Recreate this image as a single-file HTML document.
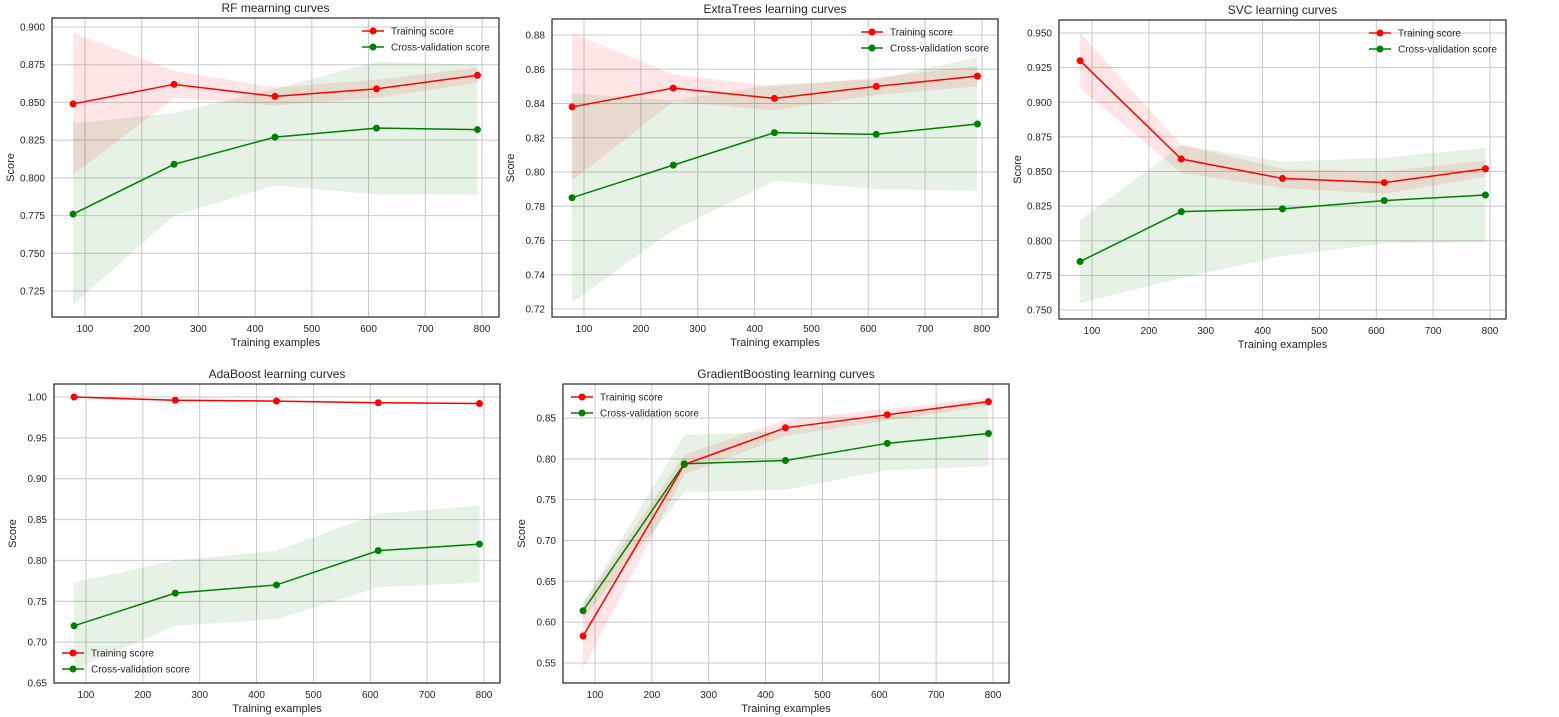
<!DOCTYPE html>
<html><head><meta charset="utf-8">
<style>
body{margin:0;background:#fff;width:1559px;height:717px;overflow:hidden}
svg{display:block;font-family:"Liberation Sans",Arial,sans-serif}
</style></head>
<body>
<svg id="c" width="1559" height="717"></svg>
<script>
const xs = [79, 257, 435, 614, 792];
const xTicks = [100,200,300,400,500,600,700,800];
const titles = ["RF mearning curves","ExtraTrees learning curves","SVC learning curves","AdaBoost learning curves","GradientBoosting learning curves"];
const trainMean1 = [0.849,0.862,0.854,0.859,0.868];
const trainStd1 = [0.047,0.009,0.006,0.006,0.005];
const cvMean1 = [0.776,0.809,0.827,0.833,0.832];
const cvStd1 = [0.060,0.034,0.032,0.044,0.043];
const trainMean2 = [0.838,0.849,0.843,0.850,0.856];
const trainStd2 = [0.043,0.008,0.007,0.005,0.006];
const cvMean2 = [0.785,0.804,0.823,0.822,0.828];
const cvStd2 = [0.061,0.038,0.028,0.032,0.039];
const trainMean3 = [0.930,0.859,0.845,0.842,0.852];
const trainStd3 = [0.020,0.010,0.007,0.008,0.006];
const cvMean3 = [0.785,0.821,0.823,0.829,0.833];
const cvStd3 = [0.030,0.048,0.034,0.031,0.034];
const trainMean4 = [1.000,0.996,0.995,0.993,0.992];
const trainStd4 = [0.001,0.001,0.001,0.001,0.001];
const cvMean4 = [0.720,0.760,0.770,0.812,0.820];
const cvStd4 = [0.053,0.040,0.042,0.045,0.047];
const trainMean5 = [0.583,0.793,0.838,0.854,0.870];
const trainStd5 = [0.040,0.012,0.010,0.007,0.005];
const cvMean5 = [0.614,0.794,0.798,0.819,0.831];
const cvStd5 = [0.010,0.035,0.036,0.033,0.040];
const yTicks1 = [0.725,0.750,0.775,0.800,0.825,0.850,0.875,0.900];
const yTicks2 = [0.72,0.74,0.76,0.78,0.80,0.82,0.84,0.86,0.88];
const yTicks3 = [0.750,0.775,0.800,0.825,0.850,0.875,0.900,0.925,0.950];
const yTicks4 = [0.65,0.70,0.75,0.80,0.85,0.90,0.95,1.00];
const yTicks5 = [0.55,0.60,0.65,0.70,0.75,0.80,0.85];

const NS="http://www.w3.org/2000/svg";
const svg=document.getElementById('c');
function mk(tag,attrs,parent){const e=document.createElementNS(NS,tag);for(const k in attrs)e.setAttribute(k,attrs[k]);(parent||svg).appendChild(e);return e;}

// layout: box, x pixel anchors (100->px, 800->px), y anchors
const panels=[
 {box:[52,18,499,317],x100:85,x800:482,yA:[0.900,27],yB:[0.725,291],tm:trainMean1,ts:trainStd1,cm:cvMean1,cs:cvStd1,yt:yTicks1,fmt:3,leg:'ur'},
 {box:[552,19,998,317],x100:584,x800:982,yA:[0.88,35],yB:[0.72,309],tm:trainMean2,ts:trainStd2,cm:cvMean2,cs:cvStd2,yt:yTicks2,fmt:2,leg:'ur'},
 {box:[1059,20,1506,319],x100:1092,x800:1490,yA:[0.950,33],yB:[0.750,310],tm:trainMean3,ts:trainStd3,cm:cvMean3,cs:cvStd3,yt:yTicks3,fmt:3,leg:'ur'},
 {box:[54,384,500,683],x100:86,x800:484,yA:[1.00,397],yB:[0.65,683],tm:trainMean4,ts:trainStd4,cm:cvMean4,cs:cvStd4,yt:yTicks4,fmt:2,leg:'ll'},
 {box:[563,384,1009,683],x100:595,x800:993,yA:[0.85,418],yB:[0.55,663],tm:trainMean5,ts:trainStd5,cm:cvMean5,cs:cvStd5,yt:yTicks5,fmt:2,leg:'ul'}
];

panels.forEach((p,i)=>{
 const g=mk('g',{});
 
 
 const [L,T,R,B]=p.box;
 const sx=v=>p.x100+(v-100)*(p.x800-p.x100)/700;
 const sy=v=>p.yA[1]+(v-p.yA[0])*(p.yB[1]-p.yA[1])/(p.yB[0]-p.yA[0]);
 const clipId='clip'+i;
 const cp=mk('clipPath',{id:clipId},g);mk('rect',{x:L,y:T,width:R-L,height:B-T},cp);
 // grid
 xTicks.forEach(t=>{
  const l=mk('line',{x1:sx(t),x2:sx(t),y1:T,y2:B,stroke:'#c8c8c8','stroke-width':1},g);
  
  const tx=mk('text',{x:sx(t),y:B+15,'font-size':10,'text-anchor':'middle',fill:'#262626'},g);tx.textContent=t;
  
 });
 p.yt.forEach(t=>{
  const l=mk('line',{x1:L,x2:R,y1:sy(t),y2:sy(t),stroke:'#c8c8c8','stroke-width':1},g);
  
  const tx=mk('text',{x:L-7,y:sy(t)+3.5,'font-size':10,'text-anchor':'end',fill:'#262626'},g);tx.textContent=t.toFixed(p.fmt);
  
 });
 const plot=mk('g',{'clip-path':'url(#'+clipId+')'},g);
 function band(m,s,col,name){
  let pts=xs.map((x,k)=>sx(x)+','+sy(m[k]+s[k]));
  pts=pts.concat(xs.map((x,k)=>sx(x)+','+sy(m[k]-s[k])).reverse());
  const e=mk('polygon',{points:pts.join(' '),fill:col,'fill-opacity':0.1},plot);
  
 }
 band(p.tm,p.ts,'#ff0000','training-std-band');
 band(p.cm,p.cs,'#008000','cv-std-band');
 function line(m,col,name){
  const e=mk('polyline',{points:xs.map((x,k)=>sx(x)+','+sy(m[k])).join(' '),fill:'none',stroke:col,'stroke-width':1.5},plot);
  
  xs.forEach((x,k)=>{const c=mk('circle',{cx:sx(x),cy:sy(m[k]),r:3.5,fill:col},plot);
   });
 }
 line(p.tm,'#ff0000','training-score-line');
 line(p.cm,'#008000','cv-score-line');
 const fr=mk('rect',{x:L,y:T,width:R-L,height:B-T,fill:'none',stroke:'#262626','stroke-width':1.2},g);
 
 const ti=mk('text',{x:(L+R)/2,y:T-6,'font-size':12,'text-anchor':'middle',fill:'#262626'},g);ti.textContent=titles[i];
 
 const xl=mk('text',{x:(L+R)/2,y:B+29,'font-size':11,'text-anchor':'middle',fill:'#262626'},g);xl.textContent='Training examples';
 
 const yx=L-38, yy=(T+B)/2;
 const yl=mk('text',{x:yx,y:yy,'font-size':11,'text-anchor':'middle',fill:'#262626',transform:'rotate(-90 '+yx+' '+yy+')'},g);yl.textContent='Score';
 
 // legend
 let lx,ly;
 if(p.leg==='ur'){lx=R-137;ly=T+13;} else if(p.leg==='ll'){lx=L+8;ly=B-30;} else {lx=L+8;ly=T+13;}
 [['Training score','#ff0000'],['Cross-validation score','#008000']].forEach((e,k)=>{
  const lg=mk('g',{},g);
  
  const y=ly+k*16;
  mk('line',{x1:lx,x2:lx+22,y1:y,y2:y,stroke:e[1],'stroke-width':1.5},lg);
  mk('circle',{cx:lx+11,cy:y,r:3.5,fill:e[1]},lg);
  const t=mk('text',{x:lx+29,y:y+3.5,'font-size':10,fill:'#262626'},lg);t.textContent=e[0];
 });
});
</script>
</body></html>
